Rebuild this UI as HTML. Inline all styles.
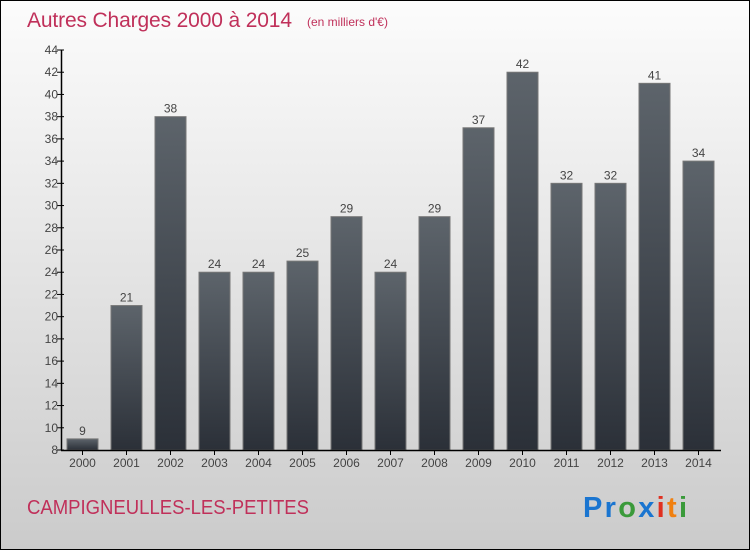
<!DOCTYPE html>
<html><head><meta charset="utf-8"><style>
body{margin:0}
#c{position:relative;width:748px;height:548px;border:1px solid #000;background:linear-gradient(#fcfcfc,#cbcbcb);font-family:"Liberation Sans",sans-serif;overflow:hidden}
</style></head><body>
<div id="c">
<svg width="748" height="548" id="s" style="position:absolute;left:0;top:0">
<defs><linearGradient id="g" x1="0" y1="0" x2="0" y2="1"><stop offset="0" stop-color="#5d646b"/><stop offset="1" stop-color="#2b3038"/></linearGradient></defs>
<text x="26" y="26" font-size="21" fill="#c0305a" textLength="265">Autres Charges 2000 à 2014</text>
<text x="306" y="25" font-size="12" fill="#c0305a">(en milliers d'€)</text>
<text x="26" y="513" font-size="20" fill="#c0305a" textLength="282" lengthAdjust="spacingAndGlyphs">CAMPIGNEULLES-LES-PETITES</text>
<text x="582" y="516" font-size="29" font-weight="bold" textLength="104"><tspan fill="#1a75d0">Pr</tspan><tspan fill="#3a9a3a">o</tspan><tspan fill="#1a75d0">x</tspan><tspan fill="#e03020">i</tspan><tspan fill="#f08010">t</tspan><tspan fill="#3a9a3a">i</tspan></text>
<g id="plot"></g>
</svg>
</div>
<script>
const years=["2000","2001","2002","2003","2004","2005","2006","2007","2008","2009","2010","2011","2012","2013","2014"];
const values=[9,21,38,24,24,25,29,24,29,37,42,32,32,41,34];
const ticks=[8,10,12,14,16,18,20,22,24,26,28,30,32,34,36,38,40,42,44];
const NS="http://www.w3.org/2000/svg";
const g=document.getElementById('plot');
const y=v=>449-(v-8)*400/36;
const x=i=>81.5+44*i;
function mk(t,a){const e=document.createElementNS(NS,t);for(const k in a)e.setAttribute(k,a[k]);g.appendChild(e);return e;}
ticks.forEach(t=>{
 const l=mk('line',{x1:56,x2:63,y1:y(t),y2:y(t),stroke:'#000'});
 
 
 const tx=mk('text',{x:57,y:y(t)+4,'text-anchor':'end','font-size':12,fill:'#444'});tx.textContent=t;
 
 
});
values.forEach((v,i)=>{
 const r=mk('rect',{x:x(i)-15.5,y:y(v),width:31,height:y(8)-y(v),fill:'url(#g)',stroke:'#777','stroke-width':1});
 
 
 const vl=mk('text',{x:x(i),y:y(v)-4,'text-anchor':'middle','font-size':12,fill:'#444'});vl.textContent=v;
 
 
 const tk=mk('line',{x1:x(i),x2:x(i),y1:449,y2:454,stroke:'#000'});
 
 
 const xl=mk('text',{x:x(i),y:466,'text-anchor':'middle','font-size':12,fill:'#444'});xl.textContent=years[i];
 
 
});
const ya=mk('line',{x1:60.5,x2:60.5,y1:y(44),y2:449.5,stroke:'#000','stroke-width':1.5});


const xa=mk('line',{x1:60,x2:720,y1:449.5,y2:449.5,stroke:'#000','stroke-width':1.5});


</script>
</body></html>
